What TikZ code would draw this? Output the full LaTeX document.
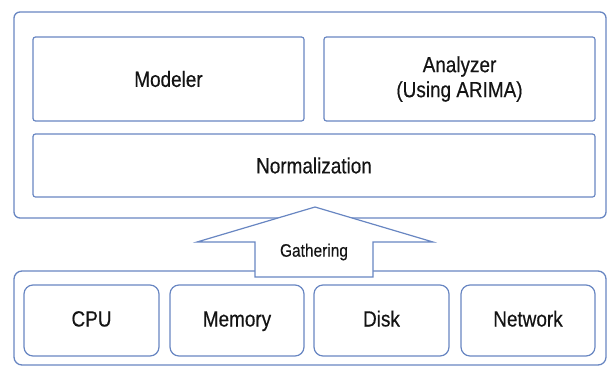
\documentclass[tikz,border=0pt]{standalone}
\usepackage{fontspec}
\setmainfont{Liberation Sans}[FakeStretch=0.86, FakeBold=0.4]
\definecolor{boxblue}{RGB}{104,134,194}
\definecolor{txtgray}{RGB}{20,20,20}
\tikzstyle{frame}=[draw=boxblue, line width=1.3pt, rounded corners=6pt, inner sep=0]
\tikzstyle{blk}=[draw=boxblue, line width=1.2pt, rounded corners=2.5pt, inner sep=0, text=txtgray, font=\fontsize{22}{25}\selectfont, align=center]
\tikzstyle{res}=[blk, rounded corners=9pt, text height=16pt, text depth=4pt]

\begin{document}
\begin{tikzpicture}[x=1pt, y=1pt]
\useasboundingbox (0,0) rectangle (609,368);
% upper part
\node at (310,253)[frame, minimum width=592pt, minimum height=206pt](top){};
\node at (168.5,289)[blk, minimum width=271pt, minimum height=84pt](modeler){Modeler};
\node at (459.5,289)[blk, minimum width=271pt, minimum height=84pt](analyzer){Analyzer\\(Using ARIMA)};
\node at (314,202.5)[blk, minimum width=562pt, minimum height=63pt](norm){Normalization};
% lower part
\node at (310,50)[frame, rounded corners=8pt, minimum width=592pt, minimum height=94pt](bottom){};
\node at (91.5,47.5)[res, minimum width=135pt, minimum height=71pt](cpu){CPU};
\node at (237,47.5)[res, minimum width=134pt, minimum height=71pt](mem){Memory};
\node at (381.5,47.5)[res, minimum width=135pt, minimum height=71pt](disk){Disk};
\node at (528,47.5)[res, minimum width=134pt, minimum height=71pt](net){Network};
% gathering arrow
\draw[draw=boxblue, fill=white, line width=1.2pt] (255,91) -- (255,126) -- (197,126) -- (315,161) -- (433,126) -- (373,126) -- (373,91) -- cycle;
\node at (314,116)[text=txtgray, font=\fontsize{18}{20}\selectfont](gather){Gathering};
\end{tikzpicture}
\end{document}
